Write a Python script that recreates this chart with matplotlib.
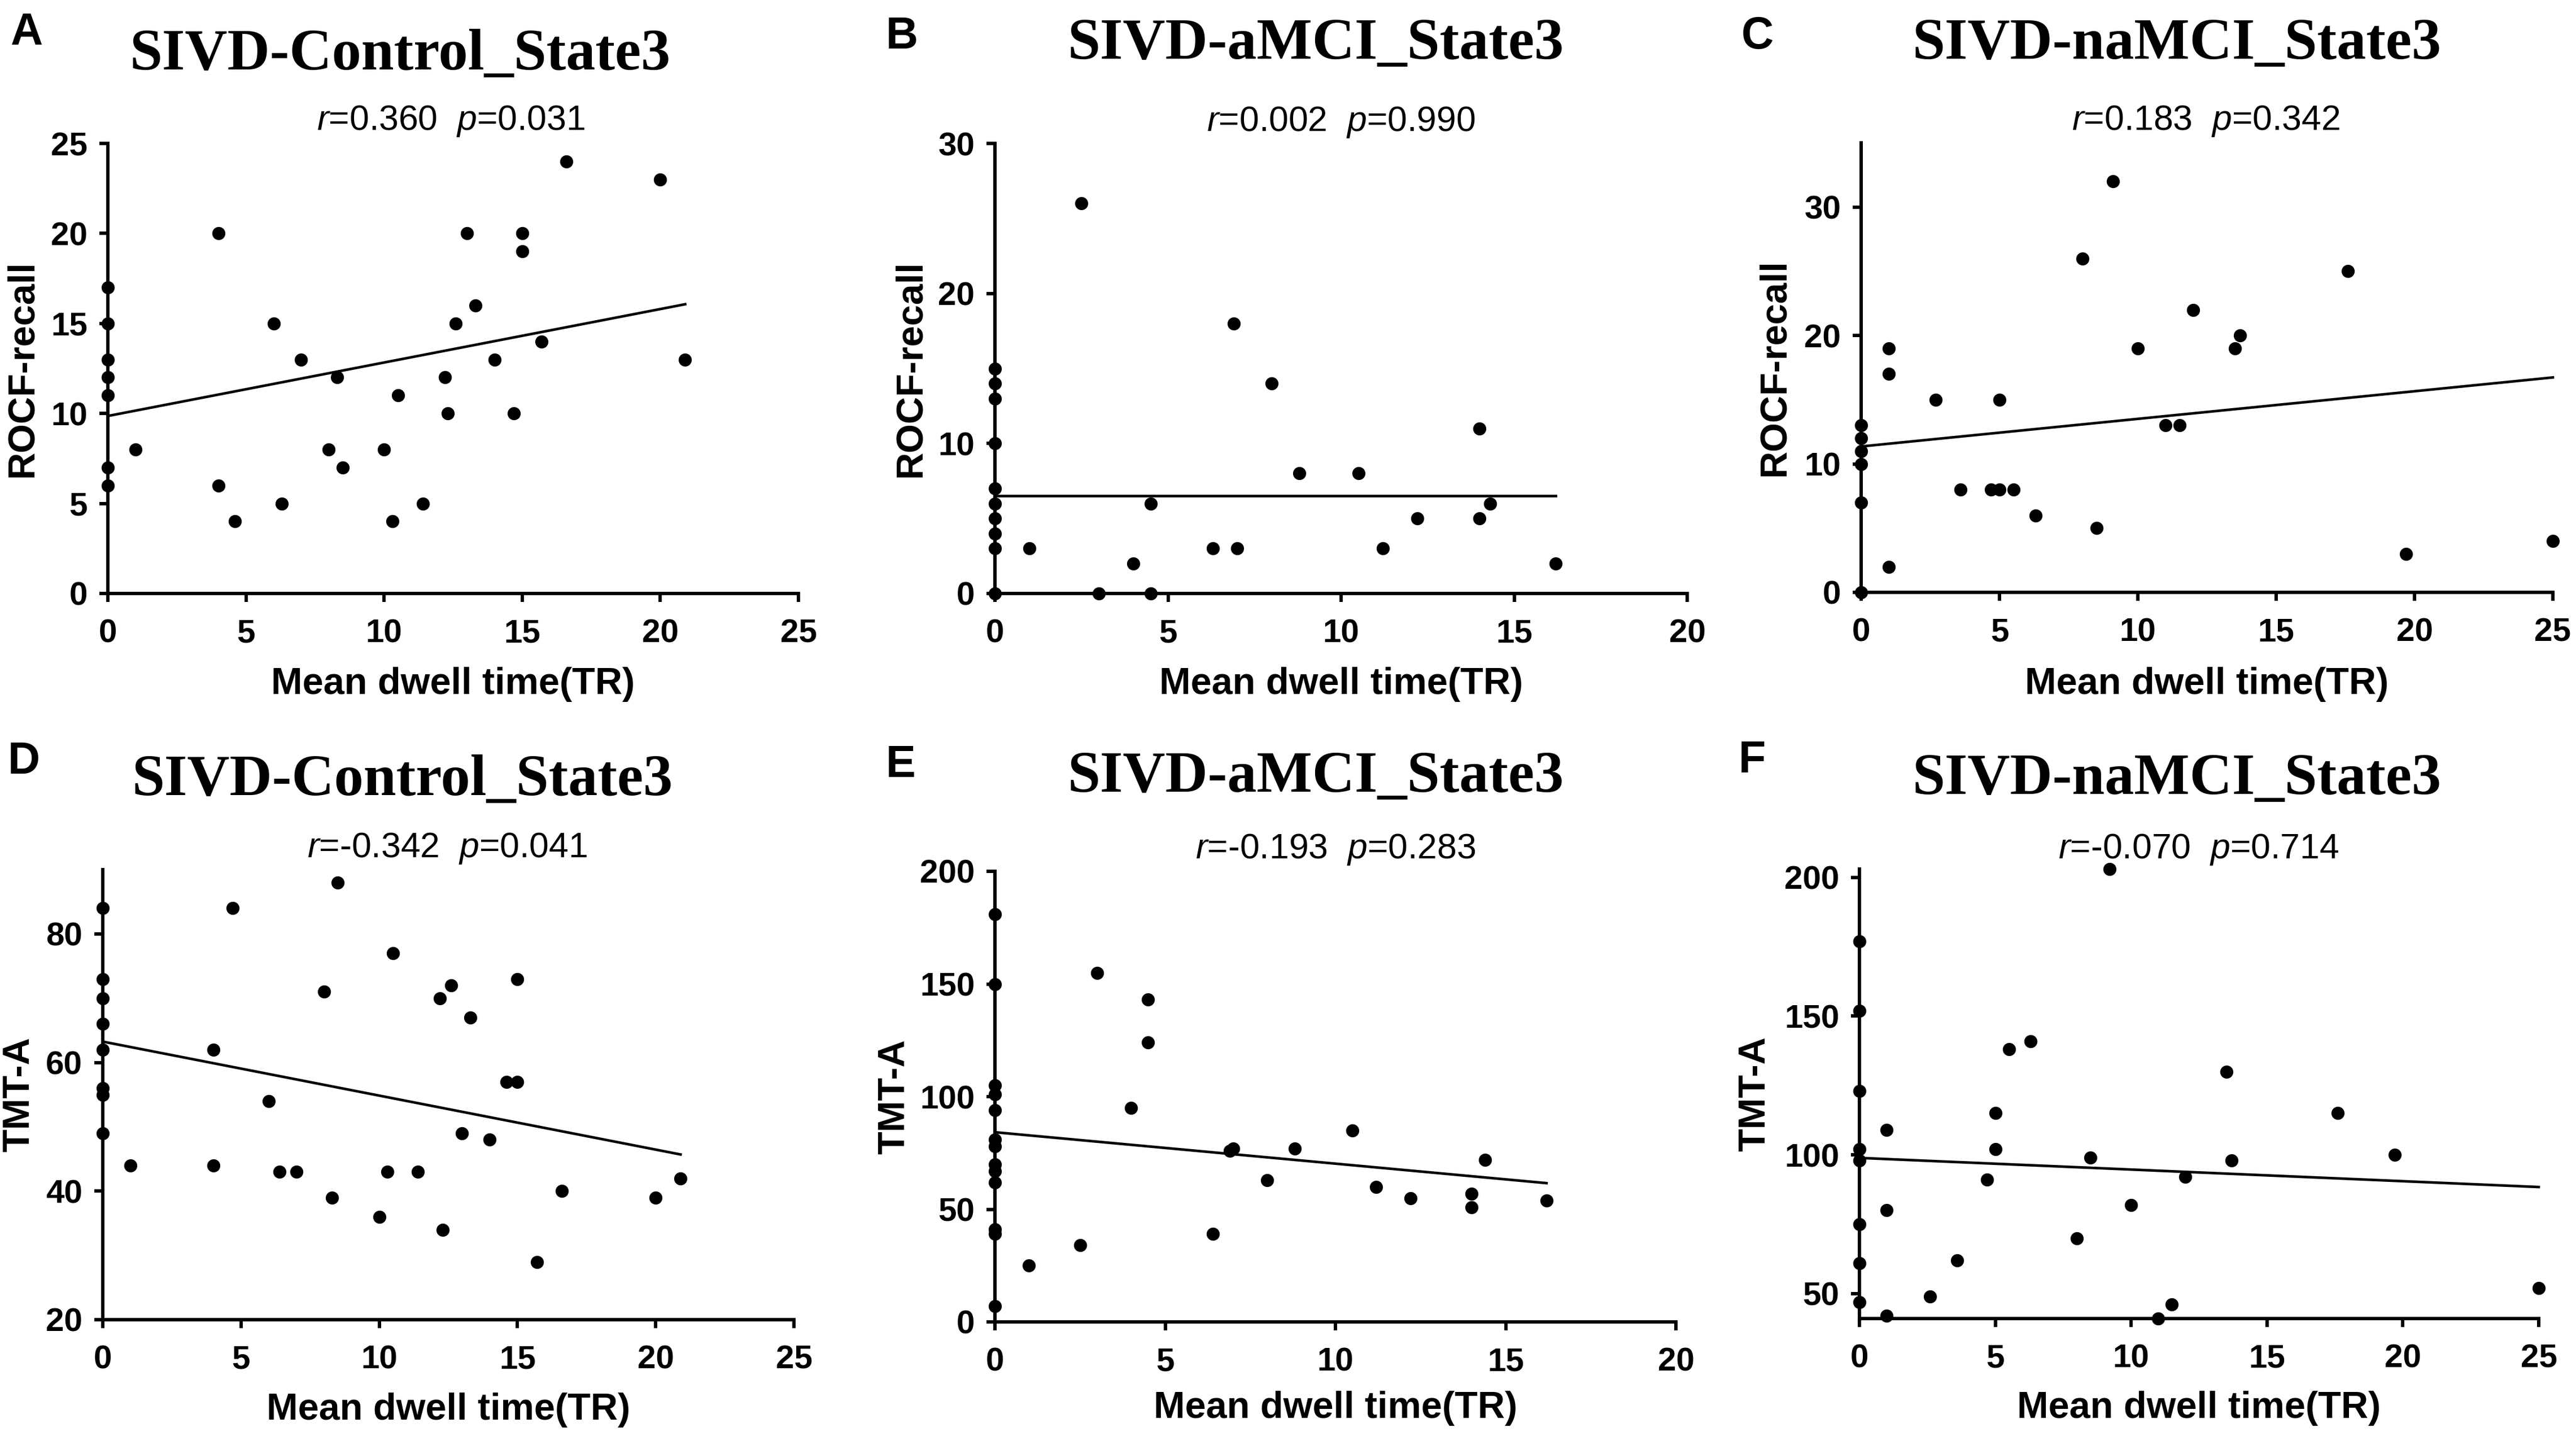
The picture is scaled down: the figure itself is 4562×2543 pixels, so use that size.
import matplotlib
matplotlib.use("Agg")
import matplotlib.pyplot as plt
import numpy as np

# ---- data ----
a_x = [0, 0, 0, 0, 0, 0, 0, 1, 4, 4, 4.6, 6, 6.3, 7, 8, 8.3, 8.5, 10, 10.3, 10.5,
       11.4, 12.2, 12.3, 12.6, 13, 13.3, 14, 14.7, 15, 15, 15.7, 16.6, 20, 20.9]
a_y = [17, 15, 13, 12, 11, 7, 6, 8, 20, 6, 4, 15, 5, 13, 8, 12, 7, 8, 4, 11,
       5, 12, 10, 15, 20, 16, 13, 10, 20, 19, 14, 24, 23, 13]

b_x = [0, 0, 0, 0, 0, 0, 0, 0, 0, 0, 1, 2.5, 3, 4, 4.5, 4.5, 6.3, 6.9, 7, 8,
       8.8, 10.5, 11.2, 12.2, 14, 14, 14.3, 16.2]
b_y = [15, 14, 13, 10, 7, 6, 5, 4, 3, 0, 3, 26, 0, 2, 6, 0, 3, 18, 3, 14,
       8, 8, 3, 5, 11, 5, 6, 2]

c_x = [0, 0, 0, 0, 0, 0, 1, 1, 1, 2.7, 3.6, 4.7, 5, 5, 5.5, 6.3, 8, 8.5, 9.1, 10,
       11, 11.5, 12, 13.5, 13.7, 17.6, 19.7, 25]
c_y = [13, 12, 11, 10, 7, 0, 19, 17, 2, 15, 8, 8, 15, 8, 8, 6, 26, 5, 32, 19,
       13, 13, 22, 19, 20, 25, 3, 4]

d_x = [0, 0, 0, 0, 0, 0, 0, 0, 1, 4, 4, 4.7, 6, 6.4, 7, 8, 8.3, 8.5, 10, 10.3,
       10.5, 11.4, 12.2, 12.3, 12.6, 13, 13.3, 14, 14.6, 15, 15, 15.7, 16.6, 20, 20.9]
d_y = [84, 73, 70, 66, 62, 56, 55, 49, 44, 62, 44, 84, 54, 43, 43, 71, 39, 88, 36, 43,
       77, 43, 70, 34, 72, 49, 67, 48, 57, 73, 57, 29, 40, 39, 42]

e_x = [0, 0, 0, 0, 0, 0, 0, 0, 0, 0, 0, 0, 0, 1, 2.5, 3, 4, 4.5, 4.5, 6.4,
       6.9, 7, 8, 8.8, 10.5, 11.2, 12.2, 14, 14, 14.4, 16.2]
e_y = [181, 150, 105, 101, 94, 81, 78, 70, 67, 62, 41, 39, 7, 25, 34, 155, 95, 143, 124, 39,
       76, 77, 63, 77, 85, 60, 55, 57, 51, 72, 54]

f_x = [0, 0, 0, 0, 0, 0, 0, 0, 1, 1, 1, 2.6, 3.6, 4.7, 5, 5, 5.5, 6.3, 8, 8.5,
       9.2, 10, 11, 11.5, 12, 13.5, 13.7, 17.6, 19.7, 25]
f_y = [177, 152, 123, 102, 98, 75, 61, 47, 109, 80, 42, 49, 62, 91, 115, 102, 138, 141, 70, 99,
       203, 82, 41, 46, 92, 130, 98, 115, 100, 52]

# regression lines as drawn: intercept, slope, last x
fit_intercept = [9.86, 6.5, 11.36, 63.25, 84.2, 98.9]
fit_slope = [0.297, 0.0, 0.215, -0.84, -1.395, -0.42]
fit_xend = [20.9, 16.2, 25, 20.9, 16.2, 25]

letters = ["A", "B", "C", "D", "E", "F"]
titles = ["SIVD-Control_State3", "SIVD-aMCI_State3", "SIVD-naMCI_State3",
          "SIVD-Control_State3", "SIVD-aMCI_State3", "SIVD-naMCI_State3"]
r_vals = ["0.360", "0.002", "0.183", "-0.342", "-0.193", "-0.070"]
p_vals = ["0.031", "0.990", "0.342", "0.041", "0.283", "0.714"]
ylabels = ["ROCF-recall"] * 3 + ["TMT-A"] * 3
xlabel = "Mean dwell time(TR)"

xlims = [(0, 25), (0, 20), (0, 25), (0, 25), (0, 20), (0, 25)]
ylims = [(0, 25), (0, 30), (0, 35), (20, 90), (0, 200), (41, 203)]
xticks = [np.arange(0, 26, 5), np.arange(0, 21, 5), np.arange(0, 26, 5),
          np.arange(0, 26, 5), np.arange(0, 21, 5), np.arange(0, 26, 5)]
yticks = [np.arange(0, 26, 5), [0, 10, 20, 30], [0, 10, 20, 30],
          [20, 40, 60, 80], np.arange(0, 201, 50), [50, 100, 150, 200]]

xs = [a_x, b_x, c_x, d_x, e_x, f_x]
ys = [a_y, b_y, c_y, d_y, e_y, f_y]

# ---- layout (pixel positions in the 4562x2543 picture) ----
W, H = 4562, 2543
rects = [(191, 254, 1414, 1051), (1762, 254, 2988, 1051), (3296, 253, 4521, 1049),
         (182, 1540, 1406, 2337), (1762, 1543, 2968, 2341), (3293, 1539, 4496, 2335)]
title_pos = [(709, 123), (2330, 104), (3855, 104), (713, 1408), (2330, 1402), (3855, 1406)]
stat_pos = [(799, 230), (2375, 232), (3906, 230), (792, 1518), (2365, 1520), (3894, 1520)]
xlab_y = [1212, 1212, 1212, 2497, 2494, 2494]
ylab_x = [40, 1613, 3143, 34, 1584, 3108]
letter_pos = [(18, 21), (1569, 28), (3084, 28), (14, 1312), (1569, 1318), (3079, 1310)]

plt.rcParams["mathtext.fontset"] = "custom"
plt.rcParams["mathtext.it"] = "Liberation Sans:italic"
plt.rcParams["mathtext.rm"] = "Liberation Sans"

SANS = ["Liberation Sans", "DejaVu Sans"]
SERIF = ["Liberation Serif", "DejaVu Serif"]


def fx(px):
    return px / W


def fy(py):
    return 1 - py / H


fig = plt.figure(figsize=(W / 300, H / 300), dpi=300)

for i in range(6):
    x0, yt, x1, yb = rects[i]
    ax = fig.add_axes([fx(x0), fy(yb), fx(x1 - x0), (yb - yt) / H])
    ax.scatter(xs[i], ys[i], s=31, color="black", zorder=3, clip_on=False,
               linewidths=0)
    lx = np.array([0, fit_xend[i]])
    ax.plot(lx, fit_intercept[i] + fit_slope[i] * lx, color="black", lw=1.1,
            zorder=2, clip_on=False)
    ax.set_xlim(*xlims[i])
    ax.set_ylim(*ylims[i])
    ax.set_xticks(xticks[i])
    ax.set_yticks(yticks[i])
    for side in ["top", "right"]:
        ax.spines[side].set_visible(False)
    for side in ["left", "bottom"]:
        ax.spines[side].set_linewidth(1.45)
    ax.tick_params(direction="out", length=3.6, width=1.45, pad=7, colors="black")
    ax.tick_params(axis="y", pad=5)
    for lab in ax.get_xticklabels() + ax.get_yticklabels():
        lab.set_fontfamily(SANS)
        lab.set_fontweight("bold")
        lab.set_fontsize(14)

    cx = (x0 + x1) / 2
    cy = (yt + yb) / 2
    fig.text(fx(letter_pos[i][0]), fy(letter_pos[i][1]), letters[i],
             family=SANS, weight="bold", fontsize=19, ha="left", va="top")
    fig.text(fx(title_pos[i][0]), fy(title_pos[i][1]), titles[i],
             family=SERIF, weight="bold", fontsize=25, ha="center", va="baseline")
    fig.text(fx(stat_pos[i][0]), fy(stat_pos[i][1]),
             r"$\mathit{r}$=" + r_vals[i] + r"  $\mathit{p}$=" + p_vals[i],
             family=SANS, fontsize=15, ha="center", va="baseline")
    fig.text(fx(cx), fy(xlab_y[i]), xlabel, family=SANS, weight="bold",
             fontsize=16, ha="center", va="center")
    fig.text(fx(ylab_x[i]), fy(cy), ylabels[i], family=SANS, weight="bold",
             fontsize=16, ha="center", va="center", rotation=90)

fig.savefig("out.png", dpi=300, facecolor="white")
